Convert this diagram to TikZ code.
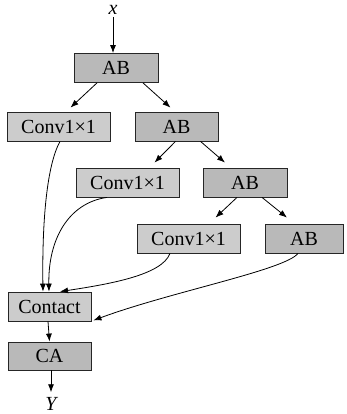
\documentclass[tikz,border=0pt]{standalone}
\usepackage{fontspec}
\setmainfont{Liberation Serif}
\usetikzlibrary{arrows.meta}
\begin{document}
\begin{tikzpicture}[x=1pt,y=-1pt,
  blk/.style={draw=black!85,line width=0.8pt,rectangle,minimum height=29pt,inner sep=0pt,font=\fontsize{20}{23}\selectfont},
  abbox/.style={blk,fill=gray!55,minimum width=84pt},
  convbox/.style={blk,fill=gray!40,minimum width=103pt},
  arr/.style={line width=0.8pt,-{Latex[length=8pt,width=6pt]}},
  lbl/.style={font=\fontsize{20}{23}\selectfont\itshape,inner sep=0pt}]
\useasboundingbox (0,0) rectangle (346,414);
\node[lbl] (x) at (113,10) {x};
\node[abbox] (ab1) at (116,68) {AB};
\node[convbox] (c1) at (58.5,126.5) {Conv1×1};
\node[abbox,minimum width=83pt] (ab2) at (176.5,126.5) {AB};
\node[convbox] (c2) at (127.5,182.5) {Conv1×1};
\node[abbox] (ab3) at (245,182.5) {AB};
\node[convbox] (c3) at (188.5,238.5) {Conv1×1};
\node[abbox,minimum width=78pt] (ab4) at (304,238.5) {AB};
\node[convbox,minimum width=83pt] (ct) at (49.5,306.5) {Contact};
\node[abbox,minimum width=83pt,minimum height=28pt] (ca) at (49.5,356) {CA};
\node[lbl] (y) at (51,404) {Y};

\draw[arr] ([yshift=-2pt]x.south) -- ([xshift=-3pt]ab1.north);
\draw[arr] ([xshift=-19pt]ab1.south) -- ([xshift=12pt,yshift=4pt]c1.north);
\draw[arr] ([xshift=27pt]ab1.south) -- ([xshift=-6pt,yshift=4pt]ab2.north);
\draw[arr] ([xshift=-1pt]ab2.south) -- ([xshift=27pt,yshift=5pt]c2.north);
\draw[arr] ([xshift=24pt]ab2.south) -- ([xshift=-20pt,yshift=5pt]ab3.north);
\draw[arr] ([xshift=-8pt]ab3.south) -- ([xshift=27pt,yshift=6pt]c3.north);
\draw[arr] ([xshift=17pt]ab3.south) -- ([xshift=-17pt,yshift=6pt]ab4.north);

\draw[arr] ([xshift=1.5pt]c1.south) .. controls (47,165) and (42,220) .. ([xshift=-6.5pt]ct.north);
\draw[arr] ([xshift=-20.5pt]c2.south) .. controls (68,203) and (48,240) .. ([xshift=-0.5pt]ct.north);
\draw[arr] ([xshift=-18.5pt]c3.south) .. controls (162,275) and (110,284) .. ([xshift=10.5pt]ct.north);
\draw[arr] ([xshift=-6pt]ab4.south) .. controls (285,270) and (170,292) .. ([xshift=2pt,yshift=1pt]ct.south east);

\draw[arr] ([xshift=-1.5pt]ct.south) -- (ca.north);
\draw[arr] ([xshift=1.5pt]ca.south) -- ([yshift=5pt]y.north);
\end{tikzpicture}
\end{document}
